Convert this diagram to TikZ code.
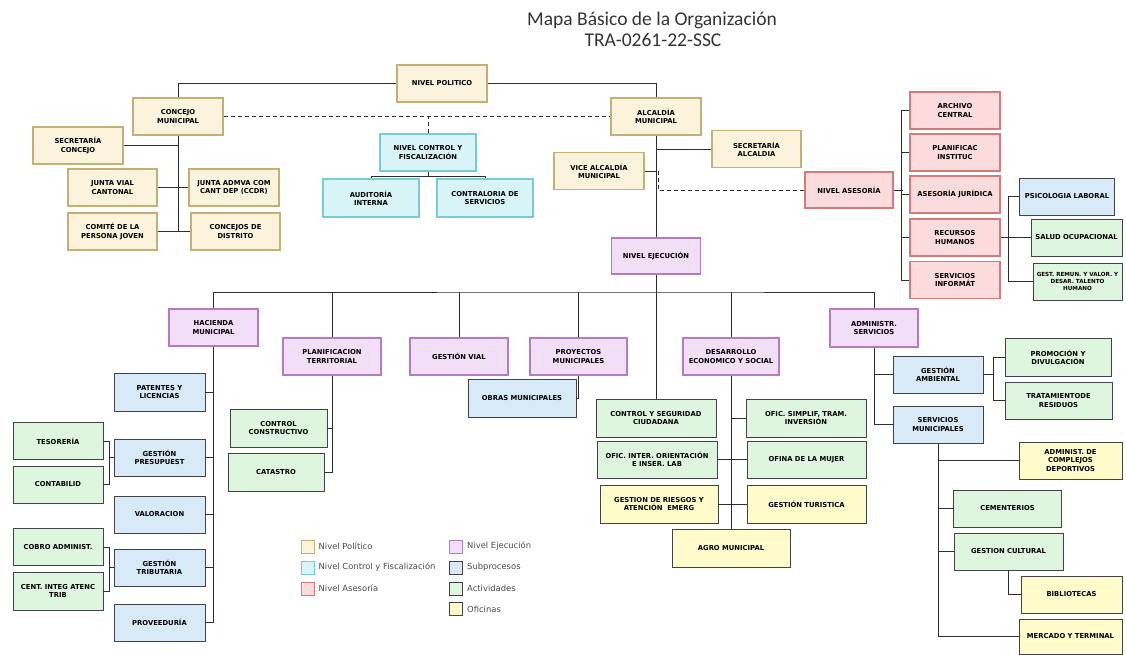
\documentclass[tikz,border=0pt]{standalone}
\usepackage{fontspec}
\setmainfont{DejaVu Sans}
\newfontfamily\titlefont{Carlito}
\usetikzlibrary{positioning,calc}
\definecolor{polfill}{RGB}{251,243,220}
\definecolor{poledge}{RGB}{196,176,118}
\definecolor{ctlfill}{RGB}{217,244,247}
\definecolor{ctledge}{RGB}{120,204,215}
\definecolor{asefill}{RGB}{251,219,219}
\definecolor{aseedge}{RGB}{212,122,122}
\definecolor{ejefill}{RGB}{242,222,246}
\definecolor{ejeedge}{RGB}{180,122,196}
\definecolor{subfill}{RGB}{216,233,248}
\definecolor{actfill}{RGB}{222,245,222}
\definecolor{ofifill}{RGB}{255,251,202}
\definecolor{boxedge}{RGB}{64,68,72}
\definecolor{linegray}{RGB}{45,45,45}
\tikzset{
  box/.style={rectangle, align=center, inner sep=1pt, text=black,
    font=\fontsize{6.8}{8.2}\selectfont\bfseries, minimum width=90pt, minimum height=37pt},
  polbox/.style={box, draw=poledge, fill=polfill, line width=1.6pt},
  ctlbox/.style={box, draw=ctledge, fill=ctlfill, line width=1.6pt},
  asebox/.style={box, draw=aseedge, fill=asefill, line width=1.6pt},
  ejebox/.style={box, draw=ejeedge, fill=ejefill, line width=1.6pt},
  subbox/.style={box, draw=boxedge, fill=subfill, line width=0.9pt},
  actbox/.style={box, draw=boxedge, fill=actfill, line width=0.9pt},
  ofibox/.style={box, draw=boxedge, fill=ofifill, line width=0.9pt},
  link/.style={draw=linegray, line width=0.9pt},
  dlink/.style={link, dash pattern=on 4pt off 3pt},
  title/.style={font=\titlefont\fontsize{19.5}{22}\selectfont, text=black!80, anchor=base},
  legsq/.style={rectangle, minimum size=13pt, inner sep=0pt, line width=1pt},
  legtxt/.style={font=\fontsize{8.4}{9}\selectfont, text=black!70, anchor=west, inner sep=0pt}
}
\begin{document}
\begin{tikzpicture}[x=1pt, y=-1pt]
  \fill[white] (0,0) rectangle (1126,654);
  \node[title] (ttl1) at (652,26) {Mapa Básico de la Organización};
  \node[title] (ttl2) at (653,47) {TRA-0261-22-SSC};

  % Political level
  \node[polbox] (npol) at (442,83.5) {NIVEL POLITICO};
  \node[polbox] (conc) at (178,116.5) {CONCEJO\\MUNICIPAL};
  \node[polbox] (secc) at (78,145.5) {SECRETARÍA\\CONCEJO};
  \node[polbox, minimum width=89pt] (jvial) at (112.5,187.5) {JUNTA VIAL\\CANTONAL};
  \node[polbox] (jadm) at (234,187.5) {JUNTA ADMVA COM\\CANT DEP (CCDR)};
  \node[polbox, minimum width=89pt] (comite) at (112.5,231.5) {COMITÉ DE LA\\PERSONA JOVEN};
  \node[polbox, minimum width=89pt] (cdist) at (235.5,231.5) {CONCEJOS DE\\DISTRITO};
  \node[polbox] (alc) at (656,116.5) {ALCALDÍA\\MUNICIPAL};
  \node[polbox] (vice) at (599,171) {VICE ALCALDÍA\\MUNICIPAL};
  \node[polbox, minimum width=89pt] (secalc) at (756.5,149) {SECRETARÍA\\ALCALDIA};

  % Control level
  \node[ctlbox, minimum width=96pt] (nctrl) at (428,152.5) {NIVEL CONTROL Y\\FISCALIZACIÓN};
  \node[ctlbox, minimum width=96pt, minimum height=38pt] (aud) at (371,198) {AUDITORÍA\\INTERNA};
  \node[ctlbox, minimum width=96pt, minimum height=38pt] (contr) at (485,198) {CONTRALORIA DE\\SERVICIOS};

  % Advisory level
  \node[asebox, minimum width=88pt, minimum height=36pt] (nases) at (849,190) {NIVEL ASESORÍA};
  \node[asebox] (archivo) at (955,110.5) {ARCHIVO\\CENTRAL};
  \node[asebox] (planif) at (955,152.5) {PLANIFICAC\\INSTITUC};
  \node[asebox] (juri) at (955,194.5) {ASESORÍA JURÍDICA};
  \node[asebox] (rrhh) at (955,237.5) {RECURSOS\\HUMANOS};
  \node[asebox] (sinf) at (955,280) {SERVICIOS\\INFORMÁT};
  \node[subbox, minimum width=95pt] (psico) at (1067,196.5) {PSICOLOGIA LABORAL};
  \node[actbox, minimum width=91pt] (salud) at (1076.5,237.5) {SALUD OCUPACIONAL};
  \node[actbox, minimum width=89pt, font=\fontsize{5.6}{6.8}\selectfont\bfseries] (gremun) at (1077.5,281.5) {GEST. REMUN. Y VALOR. Y\\DESAR. TALENTO\\HUMANO};

  % Execution level
  \node[ejebox, minimum width=89pt, minimum height=36pt] (nejec) at (656,256) {NIVEL EJECUCIÓN};
  \node[ejebox, minimum width=89pt] (hac) at (213.5,327.5) {HACIENDA\\MUNICIPAL};
  \node[ejebox, minimum width=98pt] (plan) at (332,356.5) {PLANIFICACION\\TERRITORIAL};
  \node[ejebox, minimum width=98pt] (gvial) at (459,356.5) {GESTIÓN VIAL};
  \node[ejebox, minimum width=97pt] (proy) at (578.5,356.5) {PROYECTOS\\MUNICIPALES};
  \node[ejebox, minimum width=96pt] (desa) at (731,356.5) {DESARROLLO\\ECONOMICO Y SOCIAL};
  \node[ejebox, minimum width=88pt, minimum height=38pt] (adm) at (874,328) {ADMINISTR.\\SERVICIOS};

  % Hacienda
  \node[subbox, minimum width=91pt, minimum height=38pt] (pat) at (159.5,392) {PATENTES Y\\LICENCIAS};
  \node[subbox, minimum width=91pt] (presup) at (159.5,457.5) {GESTIÓN\\PRESUPUEST};
  \node[subbox, minimum width=91pt] (valor) at (159.5,514.5) {VALORACION};
  \node[subbox, minimum width=91pt] (tribu) at (159.5,567.5) {GESTIÓN\\TRIBUTARIA};
  \node[subbox, minimum width=91pt] (prov) at (159.5,622.5) {PROVEEDURÍA};
  \node[actbox] (teso) at (58,441) {TESORERÍA};
  \node[actbox] (conta) at (58,484.5) {CONTABILID};
  \node[actbox] (cobro) at (58,547) {COBRO ADMINIST.};
  \node[actbox, minimum height=38pt] (cent) at (58,591) {CENT. INTEG ATENC\\TRIB};

  % Planificacion and Proyectos
  \node[actbox, minimum width=97pt, minimum height=38pt] (ccons) at (278.5,428) {CONTROL\\CONSTRUCTIVO};
  \node[actbox, minimum width=96pt, minimum height=38pt] (catastro) at (276,472) {CATASTRO};
  \node[subbox, minimum width=108pt, minimum height=38pt] (obras) at (522,398) {OBRAS MUNICIPALES};

  % Desarrollo
  \node[actbox, minimum width=120pt, minimum height=38pt] (ctrlseg) at (656,418) {CONTROL Y SEGURIDAD\\CIUDADANA};
  \node[actbox, minimum width=120pt, minimum height=38pt] (ofsimp) at (806,418) {OFIC. SIMPLIF, TRAM.\\INVERSIÓN};
  \node[actbox, minimum width=120pt] (ofinter) at (657,459.5) {OFIC. INTER. ORIENTACIÓN\\E INSER. LAB};
  \node[actbox, minimum width=119pt] (mujer) at (806.5,459.5) {OFINA DE LA MUJER};
  \node[ofibox, minimum width=118pt, minimum height=38pt] (riesgos) at (659,504) {GESTION DE RIESGOS Y\\ATENCIÓN~~EMERG};
  \node[ofibox, minimum width=119pt, minimum height=38pt] (turis) at (806.5,504) {GESTIÓN TURISTICA};
  \node[ofibox, minimum width=118pt, minimum height=38pt] (agro) at (731,548) {AGRO MUNICIPAL};

  % Administracion de servicios
  \node[subbox] (gamb) at (938,374.5) {GESTIÓN\\AMBIENTAL};
  \node[subbox] (servm) at (938,424.5) {SERVICIOS\\MUNICIPALES};
  \node[actbox, minimum width=106pt, minimum height=38pt] (promo) at (1058,357) {PROMOCIÓN Y\\DIVULGACIÓN};
  \node[actbox, minimum width=107pt] (trat) at (1058.5,400.5) {TRATAMIENTODE\\RESIDUOS};
  \node[ofibox, minimum width=103pt] (depor) at (1070.5,460.5) {ADMINIST. DE\\COMPLEJOS\\DEPORTIVOS};
  \node[actbox, minimum width=108pt] (cement) at (1007.5,508.5) {CEMENTERIOS};
  \node[actbox, minimum width=109pt] (gcult) at (1008.5,551.5) {GESTION CULTURAL};
  \node[ofibox, minimum width=101pt] (biblio) at (1071.5,594.5) {BIBLIOTECAS};
  \node[ofibox, minimum width=103pt, minimum height=35pt] (mercado) at (1070.5,636.5) {MERCADO Y TERMINAL};

  % Connectors, political level
  \draw[link] (conc.north) |- (npol.west);
  \draw[link] (npol.east) -| (alc.north);
  \draw[dlink] (conc.east) -- (alc.west);
  \draw[dlink] (nctrl.north) -- (nctrl.north |- alc.west);
  \draw[link] (conc.south) -- (conc.south |- comite.east);
  \draw[link] (secc.east) -- (secc.east -| conc.south);
  \draw[link] (jvial.east) -- (jadm.west);
  \draw[link] (comite.east) -- (cdist.west);
  \draw[link] (nctrl.south) -- ++(0,5) -| (aud.north);
  \draw[link] (nctrl.south) ++(0,5) -| (contr.north);
  \draw[link] (alc.south) -- (nejec.north);
  \draw[link] (secalc.west) -- (secalc.west -| alc.south);
  \draw[link] (vice.east) -- (vice.east -| alc.south);
  \draw[dlink] ($(vice.east -| alc.south)+(2,0)$) |- (nases.west);

  % Connectors, advisory level
  \draw[link] (nases.east) -- ++(9,0);
  \draw[link] (archivo.west) -- ++(-8,0) |- (sinf.west);
  \foreach \n in {planif,juri,rrhh} \draw[link] (\n.west) -- ++(-8,0);
  \draw[link] (rrhh.east) -- (salud.west);
  \draw[link] (psico.west) -- ++(-11,0) |- (gremun.west);

  % Connectors, execution level
  \coordinate (ebus) at (656,292);
  \draw[link] (hac.north) |- (ebus) -| (adm.north);
  \foreach \n in {plan,gvial,proy,desa} \draw[link] (\n.north) -- (\n.north |- ebus);
  \draw[link] (nejec.south) -- (ctrlseg.north);

  \draw[link] (hac.south) -- (hac.south |- prov.east);
  \foreach \n in {pat,presup,valor,tribu,prov} \draw[link] (\n.east) -- (\n.east -| hac.south);
  \draw[link] (teso.east) -- ++(6,0) coordinate (tb1) |- (conta.east);
  \draw[link] (presup.west) -- (presup.west -| tb1);
  \draw[link] (cobro.east) -- ++(6,0) coordinate (tb2) |- (cent.east);
  \draw[link] (tribu.west) -- (tribu.west -| tb2);

  \draw[link] (plan.south) |- (catastro.east);
  \draw[link] (ccons.east) -- (ccons.east -| plan.south);
  \draw[link] (proy.south) |- (obras.east);

  \draw[link] (desa.south) -- (agro.north);
  \draw[link] (ofsimp.west) -- (ofsimp.west -| desa.south);
  \draw[link] (ofinter.east) -- (mujer.west);
  \draw[link] (riesgos.east) -- (turis.west);

  \draw[link] (adm.south) |- (servm.west);
  \draw[link] (gamb.west) -- (gamb.west -| adm.south);
  \draw[link] (gamb.east) -- ++(11,0);
  \draw[link] (promo.west) -- ++(-11,0) |- (trat.west);
  \draw[link] (servm.south) |- (mercado.west);
  \foreach \n in {depor,cement,gcult} \draw[link] (\n.west) -- (\n.west -| servm.south);
  \draw[link] (gcult.south) |- (biblio.west);

  % Legend
  \node[legsq, draw=poledge, fill=polfill] (lpol) at (307.5,546.5) {};
  \node[legsq, draw=ctledge, fill=ctlfill] (lctl) at (307.5,567.5) {};
  \node[legsq, draw=aseedge, fill=asefill] (lase) at (307.5,588.5) {};
  \node[legsq, draw=ejeedge, fill=ejefill] (leje) at (456,546.5) {};
  \node[legsq, draw=boxedge, fill=subfill] (lsub) at (456,567.5) {};
  \node[legsq, draw=boxedge, fill=actfill] (lact) at (456,588.5) {};
  \node[legsq, draw=boxedge, fill=ofifill] (lofi) at (456,609) {};
  \node[legtxt, right=4pt of lpol] (tpol) {Nivel Político};
  \node[legtxt, right=4pt of lctl] (tctl) {Nivel Control y Fiscalización};
  \node[legtxt, right=4pt of lase] (tase) {Nivel Asesoría};
  \node[legtxt, right=4pt of leje] (teje) {Nivel Ejecución};
  \node[legtxt, right=4pt of lsub] (tsub) {Subprocesos};
  \node[legtxt, right=4pt of lact] (tact) {Actividades};
  \node[legtxt, right=4pt of lofi] (tofi) {Oficinas};
\end{tikzpicture}
\end{document}
